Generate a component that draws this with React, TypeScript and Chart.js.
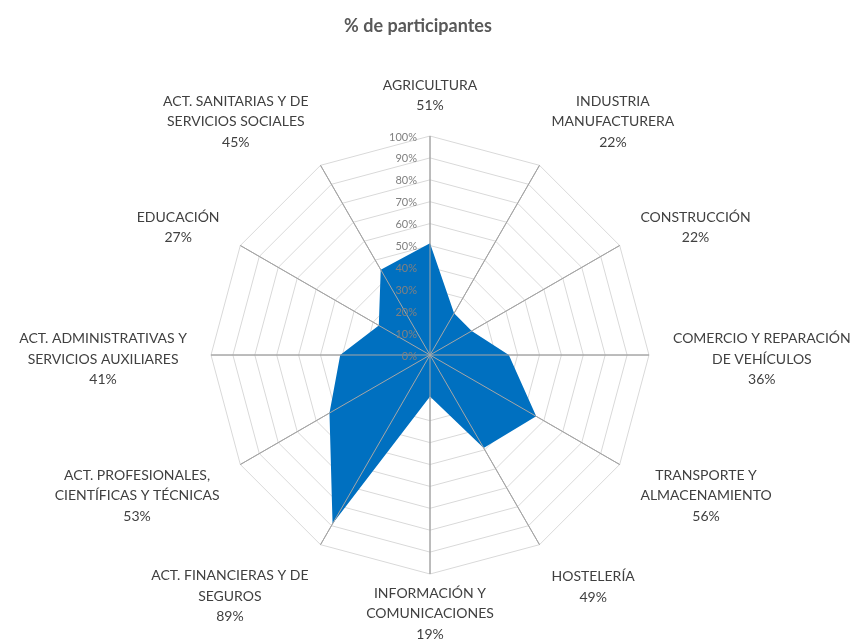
import React, { useEffect, useRef } from "react";
import { Chart, registerables } from "chart.js";

Chart.register(...registerables);

const categories: string[][] = [
  ["AGRICULTURA"],
  ["INDUSTRIA", "MANUFACTURERA"],
  ["CONSTRUCCIÓN"],
  ["COMERCIO Y REPARACIÓN", "DE VEHÍCULOS"],
  ["TRANSPORTE Y", "ALMACENAMIENTO"],
  ["HOSTELERÍA"],
  ["INFORMACIÓN Y", "COMUNICACIONES"],
  ["ACT. FINANCIERAS Y DE", "SEGUROS"],
  ["ACT. PROFESIONALES,", "CIENTÍFICAS Y TÉCNICAS"],
  ["ACT. ADMINISTRATIVAS Y", "SERVICIOS AUXILIARES"],
  ["EDUCACIÓN"],
  ["ACT. SANITARIAS Y DE", "SERVICIOS SOCIALES"],
];

const participantes = [51, 22, 22, 36, 56, 49, 19, 89, 53, 41, 27, 45];

const titleText = "% de participantes";
const tickMin = 0;
const tickMax = 100;
const tickStep = 10;

const FONT = "Lato, 'Open Sans', sans-serif";

const overlayPlugin = {
  id: "overlay",
  afterDatasetsDraw(chart: any) {
    const scale = chart.scales.r;
    const ctx = chart.ctx;
    const R = scale.drawingArea;
    ctx.save();
    // spokes over the filled area
    ctx.strokeStyle = "#a6a6a6";
    ctx.lineWidth = 1;
    for (let i = 0; i < categories.length; i++) {
      const p = scale.getPointPosition(i, R);
      ctx.beginPath();
      ctx.moveTo(scale.xCenter, scale.yCenter);
      ctx.lineTo(p.x, p.y);
      ctx.stroke();
    }
    // tick labels
    ctx.fillStyle = "#808080";
    ctx.font = `11px ${FONT}`;
    ctx.textAlign = "right";
    ctx.textBaseline = "middle";
    for (const t of scale.ticks) {
      const d = scale.getDistanceFromCenterForValue(t.value);
      ctx.fillText(`${t.value}%`, scale.xCenter - 13, scale.yCenter - d + 1);
    }
    // point labels (centered multi-line blocks)
    ctx.fillStyle = "#404040";
    ctx.font = `14px ${FONT}`;
    ctx.textAlign = "center";
    const lineH = 20.5;
    for (let i = 0; i < categories.length; i++) {
      const lines = [...categories[i], `${participantes[i]}%`];
      const w = Math.max(...lines.map((l) => ctx.measureText(l).width));
      const h = lines.length * lineH;
      const ang = scale.getIndexAngle(i);
      const s = Math.sin(ang);
      const c = Math.cos(ang);
      const bottomCenter = Math.abs(s) < 0.01 && c < 0;
      const pad = bottomCenter ? 5 : 24;
      const a = scale.getPointPosition(i, R + pad);
      let cx = a.x;
      if (s > 0.01) cx = a.x + w / 2;
      else if (s < -0.01) cx = a.x - w / 2;
      const cy = a.y - c * h / 2 + 4;
      const top = cy - h / 2;
      lines.forEach((l, k) => {
        ctx.fillText(l, cx, top + lineH * (k + 0.5));
      });
    }
    // title
    ctx.fillStyle = "#595959";
    ctx.font = `bold 18px ${FONT}`;
    ctx.fillText(titleText, 418, 26);
    ctx.restore();
  },
};

export default function App() {
  const ref = useRef<HTMLCanvasElement>(null);
  useEffect(() => {
    if (!ref.current) return;
    const chart = new Chart(ref.current, {
      type: "radar",
      data: {
        labels: categories.map((l) => l.join(" ")),
        datasets: [
          {
            label: titleText,
            data: participantes,
            backgroundColor: "#0070C0",
            borderWidth: 0,
            fill: true,
            pointRadius: 0,
          },
        ],
      },
      options: {
        animation: false,
        responsive: true,
        maintainAspectRatio: false,
        layout: { padding: { top: 136, bottom: 65, left: 211, right: 204 } },
        plugins: {
          legend: { display: false },
          tooltip: { enabled: false },
          title: { display: false },
        },
        scales: {
          r: {
            min: tickMin,
            max: tickMax,
            ticks: { stepSize: tickStep, display: false },
            grid: { color: "#d9d9d9", lineWidth: 1 },
            angleLines: { color: "#a6a6a6", lineWidth: 1 },
            pointLabels: { display: false },
          },
        },
      },
      plugins: [overlayPlugin],
    });
    return () => chart.destroy();
  }, []);
  return (
    <div style={{ position: "absolute", left: 0, top: 0, width: 853, height: 639, background: "#ffffff" }}>
      <canvas ref={ref} />
    </div>
  );
}
